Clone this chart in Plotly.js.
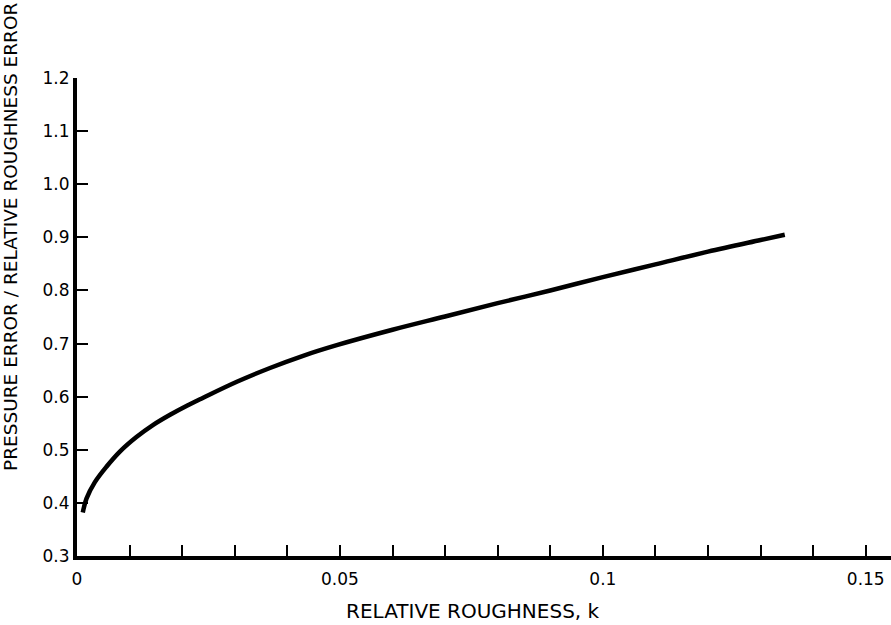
<!DOCTYPE html>
<html>
<head>
<meta charset="utf-8">
<script src="https://cdn.plot.ly/plotly-3.0.1.min.js"></script>
<style>html,body{margin:0;padding:0;background:#fff;}#chart{width:891px;height:625px;}</style>
</head>
<body>
<div id="chart"></div>
<script>
const roughness = [0.0011, 0.0018, 0.0034, 0.0056, 0.0082, 0.0113, 0.0145, 0.0177, 0.0209, 0.024, 0.0304, 0.0367, 0.043, 0.0494, 0.06, 0.07, 0.08, 0.09, 0.10, 0.11, 0.12, 0.13, 0.1346];
const errorRatio = [0.382, 0.408, 0.439, 0.468, 0.497, 0.524, 0.547, 0.566, 0.583, 0.598, 0.628, 0.654, 0.677, 0.697, 0.726, 0.751, 0.776, 0.800, 0.825, 0.849, 0.873, 0.895, 0.905];
const xTickVals = [0, 0.01, 0.02, 0.03, 0.04, 0.05, 0.06, 0.07, 0.08, 0.09, 0.10, 0.11, 0.12, 0.13, 0.14, 0.15];
const xTickText = ['0', '', '', '', '', '0.05', '', '', '', '', '0.1', '', '', '', '', '0.15'];
const yTickVals = [0.3, 0.4, 0.5, 0.6, 0.7, 0.8, 0.9, 1.0, 1.1, 1.2];
const yTickText = ['0.3', '0.4', '0.5', '0.6', '0.7', '0.8', '0.9', '1.0', '1.1', '1.2'];
const xTitle = 'RELATIVE ROUGHNESS, k';
const yTitle = 'PRESSURE ERROR / RELATIVE ROUGHNESS ERROR';

const tickFont = {family: 'DejaVu Sans, sans-serif', size: 17, color: '#000'};
const yTitleFont = {family: 'DejaVu Sans, sans-serif', size: 18.5, color: '#000'};
const xTitleFont = {family: 'DejaVu Sans, sans-serif', size: 20, color: '#000'};

const trace = {
  x: roughness, y: errorRatio, type: 'scatter', mode: 'lines',
  line: {color: '#000', width: 4.5, shape: 'spline', smoothing: 1},
  hoverinfo: 'skip'
};

const layout = {
  width: 891, height: 625,
  margin: {l: 77, r: 0, t: 78, b: 69},
  paper_bgcolor: '#fff', plot_bgcolor: '#fff',
  showlegend: false,
  font: tickFont,
  xaxis: {
    range: [0, 0.1548], showgrid: false, zeroline: false,
    showline: true, linecolor: '#000', linewidth: 4,
    tickmode: 'array', tickvals: xTickVals, ticktext: xTickText,
    ticks: 'inside', ticklen: 11, tickwidth: 2, tickcolor: '#000',
    tickfont: tickFont, ticklabelstandoff: 5, fixedrange: true
  },
  yaxis: {
    range: [0.3, 1.2], showgrid: false, zeroline: false,
    showline: true, linecolor: '#000', linewidth: 4,
    tickmode: 'array', tickvals: yTickVals, ticktext: yTickText,
    ticks: 'inside', ticklen: 11, tickwidth: 2, tickcolor: '#000',
    tickfont: tickFont, fixedrange: true
  },
  annotations: [
    {text: xTitle, xref: 'paper', yref: 'paper', x: 0, y: 0, xanchor: 'center', yanchor: 'middle',
     xshift: 473 - 77, yshift: -(611 - 556), showarrow: false, font: xTitleFont},
    {text: yTitle, xref: 'paper', yref: 'paper', x: 0, y: 1, xanchor: 'center', yanchor: 'middle', textangle: -90,
     xshift: -(77 - 10), yshift: -(237 - 78), showarrow: false, font: yTitleFont}
  ]
};

Plotly.newPlot('chart', [trace], layout, {staticPlot: true, displayModeBar: false});
</script>
</body>
</html>
